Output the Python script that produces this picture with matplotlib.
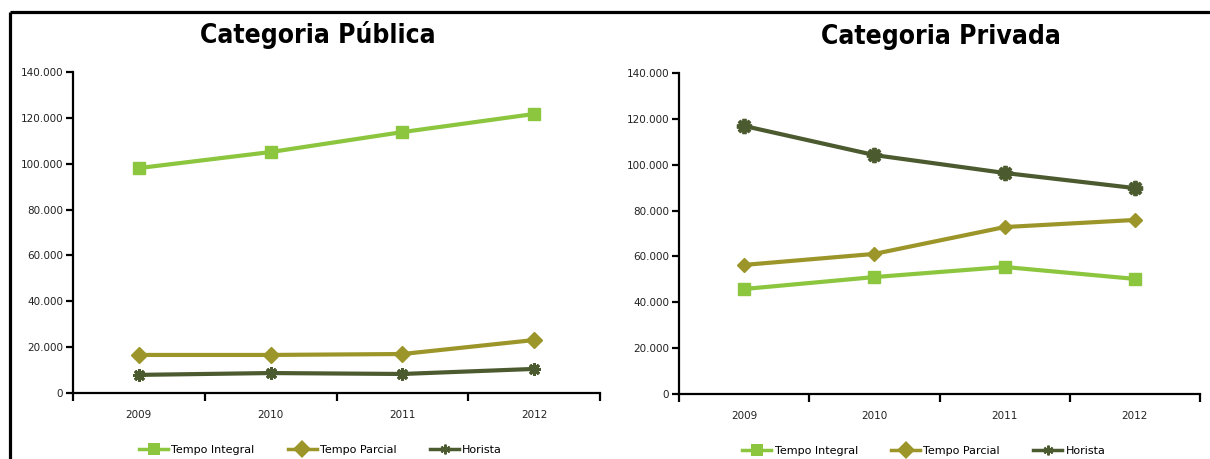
import matplotlib
matplotlib.use("Agg")
import matplotlib.pyplot as plt
from matplotlib.lines import Line2D
from matplotlib.ticker import FuncFormatter

anos = ["2009", "2010", "2011", "2012"]
series = ["Tempo Integral", "Tempo Parcial", "Horista"]

publica_integral = [98100, 105100, 113800, 121700]
publica_parcial = [16600, 16600, 17000, 23100]
publica_horista = [7900, 8700, 8300, 10500]

privada_integral = [45800, 51000, 55400, 50200]
privada_parcial = [56300, 61100, 72800, 75900]
privada_horista = [116900, 104200, 96400, 89800]

titulos = ["Categoria Pública", "Categoria Privada"]
yticks = [0, 20000, 40000, 60000, 80000, 100000, 120000, 140000]

cores = {"Tempo Integral": "#8cc63e", "Tempo Parcial": "#9c962a", "Horista": "#4b5a2f"}
marcadores = {"Tempo Integral": "s", "Tempo Parcial": "D", "Horista": (8, 2, 0)}

fig = plt.figure(figsize=(12.10, 4.59), dpi=100)

# border lines (top and left)
fig.add_artist(Line2D([0.0079, 1.0], [0.9745, 0.9745], color="black", lw=2.3,
                      transform=fig.transFigure, solid_capstyle="butt"))
fig.add_artist(Line2D([0.0079, 0.0079], [0.0, 0.9745], color="black", lw=2.3,
                      transform=fig.transFigure, solid_capstyle="butt"))

posicoes = [[0.0603, 0.1438, 0.4356, 0.6993], [0.5612, 0.1416, 0.4305, 0.6994]]
titulo_x = [0.465, 0.503]
dados = [
    [publica_integral, publica_parcial, publica_horista],
    [privada_integral, privada_parcial, privada_horista],
]
tam = [
    {"Tempo Integral": 9, "Tempo Parcial": 8.5, "Horista": 9},
    {"Tempo Integral": 8, "Tempo Parcial": 7, "Horista": 11},
]

fmt = FuncFormatter(lambda v, p: "0" if v == 0 else f"{int(v):,}".replace(",", "."))

for i in range(2):
    ax = fig.add_axes(posicoes[i])
    x = list(range(len(anos)))
    handles = []
    for nome, vals in zip(series, dados[i]):
        mk = marcadores[nome]
        mew = (2.2 if i == 0 else 2.8) if nome == "Horista" else 1
        ax.plot(x, vals, color=cores[nome], lw=3, marker=mk, ms=tam[i][nome],
                mec=cores[nome], mfc=cores[nome], mew=mew, solid_capstyle="butt",
                zorder=3)
        if nome == "Horista":
            h = Line2D([], [], color=cores[nome], lw=2.5, marker=(6, 2, 0), ms=7, mew=1.6)
        else:
            h = Line2D([], [], color=cores[nome], lw=2.5, marker=mk, ms=9, mew=0)
        handles.append(h)
    ax.set_xlim(-0.5, len(anos) - 0.5)
    ax.set_ylim(0, 140000)
    ax.set_yticks(yticks)
    ax.yaxis.set_major_formatter(fmt)
    ax.set_xticks([k - 0.5 for k in range(len(anos) + 1)])
    ax.set_xticklabels([])
    ax.set_xticks(x, minor=True)
    ax.set_xticklabels(anos, minor=True, fontsize=7.5, color="#222222")
    ax.tick_params(axis="x", which="major", direction="out", length=6, width=1.6)
    ax.tick_params(axis="x", which="minor", length=0, pad=12)
    ax.tick_params(axis="y", direction="out", length=5, width=1.6,
                   labelsize=7.5, labelcolor="#222222", pad=2)
    for s in ["top", "right"]:
        ax.spines[s].set_visible(False)
    for s in ["left", "bottom"]:
        ax.spines[s].set_linewidth(1.6)
    ax.spines["left"].set_bounds(0, 140000)
    ax.set_title(titulos[i], fontsize=19, fontweight="heavy", fontstretch="condensed",
                 x=titulo_x[i], pad=21, family="DejaVu Sans")
    ax.legend(handles, series, loc="center", bbox_to_anchor=(0.47, -0.178), ncol=3,
              frameon=False, fontsize=8, handlelength=2.6, handletextpad=0.3,
              columnspacing=3.0)

fig.savefig("out.png", dpi=100)
